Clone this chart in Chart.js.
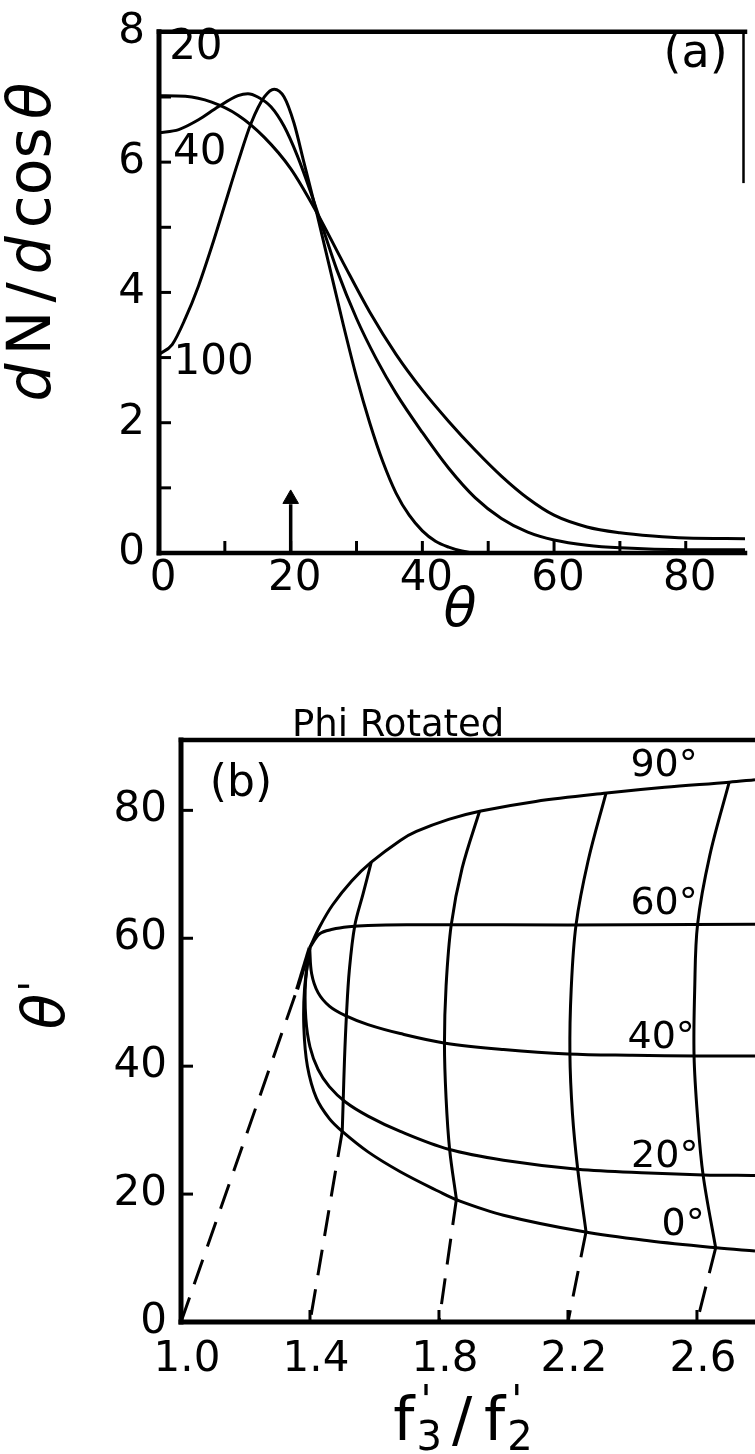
<!DOCTYPE html>
<html lang="en">
<head>
<meta charset="UTF-8">
<title>dN/dcos theta and Phi Rotated</title>
<script src="https://cdn.jsdelivr.net/npm/chart.js"></script>
<style>
  body { margin: 0; background: #fff; width: 755px; height: 1454px; overflow: hidden; position: relative; }
  .panel { position: absolute; left: 0; width: 755px; }
  #panelA { top: 0; height: 640px; }
  #panelB { top: 650px; height: 804px; }
</style>
</head>
<body>
<div class="panel" id="panelA"><canvas id="chartA"></canvas></div>
<div class="panel" id="panelB"><canvas id="chartB"></canvas></div>
<script>
// ---- panel (a): dN/dcos(theta) vs theta ----
const thetaTicks = [0, 20, 40, 60, 80];
const thetaMarks = [10, 20, 30, 40, 50, 60, 70, 80];
const dnTicks = [0, 2, 4, 6, 8];
const dnMarks = [1, 2, 3, 4, 5, 6, 7];

const theta20 = [0, 4, 8, 12, 16, 20, 24, 28, 32, 36, 40, 44, 48, 52, 56, 60, 65, 70, 75, 80, 89];
const dn20 = [7.02, 7.01, 6.92, 6.72, 6.38, 5.9, 5.22, 4.45, 3.7, 3.05, 2.5, 2.02, 1.58, 1.18, 0.84, 0.58, 0.4, 0.31, 0.26, 0.23, 0.22];

const theta40 = [0, 3, 6, 9, 12, 13.5, 15, 17, 19, 21, 23, 25, 27, 30, 33, 36, 40, 44, 48, 52, 56, 60, 65, 70, 80, 89];
const dn40 = [6.45, 6.5, 6.65, 6.85, 7.02, 7.05, 7.0, 6.85, 6.55, 6.1, 5.55, 4.95, 4.35, 3.6, 2.98, 2.45, 1.85, 1.3, 0.85, 0.53, 0.32, 0.2, 0.12, 0.08, 0.05, 0.05];

const theta100 = [0, 2, 4, 6, 8, 10, 12, 14, 16, 17.5, 19, 20.5, 22, 24, 26, 28, 30, 32, 34, 36, 38, 40, 42, 44, 46, 48, 60, 89];
const dn100 = [3.05, 3.2, 3.6, 4.1, 4.7, 5.35, 6.0, 6.6, 7.0, 7.12, 7.0, 6.6, 6.0, 5.2, 4.35, 3.5, 2.7, 2.0, 1.4, 0.92, 0.58, 0.34, 0.18, 0.09, 0.03, 0.0, 0.0, 0.0];

const arrowX = [20, 20];
const arrowY = [0.02, 0.75];
const arrowHeadY = [0.83];

// ---- panel (b): theta' vs f'3/f'2, Phi Rotated ----
const ratioTicks = [1.0, 1.4, 1.8, 2.2, 2.6];
const primeTicks = [0, 20, 40, 60, 80];
const primeMarks = [20, 40, 60, 80];

const phi90X = [1.399, 1.43, 1.47, 1.53, 1.59, 1.68, 1.73, 1.83, 1.93, 2.10, 2.32, 2.50, 2.70, 2.78];
const phi90Y = [58.5, 61.8, 65.2, 69.0, 71.9, 75.3, 76.7, 78.6, 79.9, 81.4, 82.7, 83.6, 84.4, 84.8];
const phi60X = [1.399, 1.43, 1.47, 1.52, 1.58, 1.70, 2.00, 2.40, 2.78];
const phi60Y = [58.5, 60.7, 61.4, 61.8, 62.0, 62.1, 62.1, 62.1, 62.2];
const phi40X = [1.399, 1.405, 1.425, 1.46, 1.51, 1.58, 1.68, 1.82, 2.00, 2.20, 2.40, 2.60, 2.78];
const phi40Y = [58.5, 54.5, 51.5, 49.4, 47.9, 46.5, 45.1, 43.6, 42.6, 41.9, 41.7, 41.6, 41.6];
const phi20X = [1.399, 1.386, 1.387, 1.40, 1.425, 1.46, 1.51, 1.58, 1.68, 1.83, 2.00, 2.23, 2.45, 2.62, 2.78];
const phi20Y = [58.5, 53, 47.5, 43, 39.5, 36.8, 34.4, 32.2, 29.8, 27.0, 25.3, 23.9, 23.3, 23.0, 22.9];
const phi0X = [1.399, 1.383, 1.381, 1.392, 1.42, 1.46, 1.50, 1.58, 1.68, 1.80, 1.86, 2.00, 2.25, 2.45, 2.66, 2.78];
const phi0Y = [58.5, 52, 46, 40, 35, 31.8, 29.8, 26.6, 23.5, 20.4, 19.0, 16.7, 14.1, 12.7, 11.6, 11.1];

const mer1X = [1.590, 1.565, 1.539, 1.522, 1.513, 1.507, 1.503, 1.500];
const mer1Y = [71.9, 67.0, 62.0, 55.0, 47.9, 41.0, 34.6, 29.8];
const mer2X = [1.926, 1.872, 1.838, 1.822, 1.817, 1.822, 1.833, 1.854];
const mer2Y = [79.9, 71.0, 62.1, 52.5, 43.5, 35.0, 27.0, 19.2];
const mer3X = [2.318, 2.262, 2.225, 2.210, 2.206, 2.214, 2.230, 2.256];
const mer3Y = [82.7, 72.0, 62.1, 52.0, 41.9, 32.5, 24.0, 14.1];
const mer4X = [2.700, 2.640, 2.602, 2.593, 2.591, 2.602, 2.619, 2.658];
const mer4Y = [84.4, 73.0, 62.2, 52.0, 41.6, 32.0, 23.0, 11.6];

const dash0X = [1.0, 1.36];
const dash0Y = [0, 52];
const cuspX = [1.36, 1.399];
const cuspY = [52, 58.5];
const dash1X = [1.500, 1.40];
const dash1Y = [29.8, 0];
const dash2X = [1.854, 1.80];
const dash2Y = [19.2, 0];
const dash3X = [2.256, 2.20];
const dash3Y = [14.1, 0];
const dash4X = [2.658, 2.60];
const dash4Y = [11.6, 0];

const FONT = '"DejaVu Sans"';
Chart.defaults.font.family = FONT;
Chart.defaults.color = '#000';
Chart.defaults.animation = false;

function pts(xs, ys) { return xs.map((x, i) => ({ x: x, y: ys[i] })); }

function line(xs, ys, extra) {
  return Object.assign({
    data: pts(xs, ys), showLine: true, borderColor: '#000', borderWidth: 3,
    pointRadius: 0, fill: false
  }, extra || {});
}

// text made of pieces in different fonts, centred on (x, y)
function rich(ctx, parts, x, y, angle) {
  ctx.save();
  ctx.translate(x, y);
  ctx.rotate(angle || 0);
  ctx.textAlign = 'left';
  ctx.textBaseline = 'alphabetic';
  let w = 0;
  parts.forEach(p => { ctx.font = p.font; p.w = ctx.measureText(p.t).width; if (!p.hold) w += p.w + (p.dx || 0); });
  let cx = -w / 2;
  parts.forEach(p => {
    ctx.font = p.font;
    ctx.fillText(p.t, cx + (p.dx || 0), p.dy || 0);
    if (!p.hold) cx += p.w + (p.dx || 0);
  });
  ctx.restore();
}

const decor = {
  id: 'decor',
  afterDraw(chart, args, o) {
    const ctx = chart.ctx, a = chart.chartArea;
    const sx = chart.scales.x, sy = chart.scales.y;
    ctx.save();
    ctx.strokeStyle = '#000';
    ctx.fillStyle = '#000';
    const seg = (x1, y1, x2, y2, w) => {
      ctx.lineWidth = w; ctx.beginPath(); ctx.moveTo(x1, y1); ctx.lineTo(x2, y2); ctx.stroke();
    };
    ctx.lineCap = 'square';
    seg(a.left, a.top, a.left, a.bottom, o.frame.left);
    seg(a.left, a.bottom, a.right, a.bottom, o.frame.bottom);
    seg(a.left, a.top, a.right, a.top, o.frame.top);
    if (o.frame.rightLen) seg(a.right - 1.5, a.top, a.right - 1.5, a.top + o.frame.rightLen, o.frame.right);
    ctx.lineCap = 'butt';
    o.xMarks.forEach(v => { const p = sx.getPixelForValue(v); seg(p, a.bottom, p, a.bottom - o.tickLen, 3); });
    o.yMarks.forEach(v => { const p = sy.getPixelForValue(v); seg(a.left, p, a.left + o.tickLen, p, 3); });
    ctx.textBaseline = 'middle';
    o.texts.forEach(t => {
      ctx.font = t.font;
      ctx.textAlign = t.align || 'center';
      ctx.fillText(t.text, sx.getPixelForValue(t.x), sy.getPixelForValue(t.y));
    });
    if (o.extra) o.extra(ctx, a, sx, sy);
    ctx.restore();
  }
};
Chart.register(decor);

function axis(min, max, ticks, fmt, pad, fit, shift) {
  return {
    type: 'linear', min: min, max: max,
    afterBuildTicks: s => { s.ticks = ticks.map(v => ({ value: v })); },
    afterFit: fit,
    grid: { display: false, drawTicks: false },
    border: { display: false },
    ticks: {
      font: { size: 42, lineHeight: 0.85 }, color: '#000', padding: pad,
      maxRotation: 0, autoSkip: false, callback: fmt, labelOffset: shift || 0
    }
  };
}

// ---- chart (a) ----
new Chart(document.getElementById('chartA'), {
  type: 'scatter',
  data: {
    datasets: [
      line(theta20, dn20, { label: '20', cubicInterpolationMode: 'monotone' }),
      line(theta40, dn40, { label: '40', cubicInterpolationMode: 'monotone' }),
      line(theta100, dn100, { label: '100', cubicInterpolationMode: 'monotone' }),
      line(arrowX, arrowY, { label: 'arrow', borderWidth: 3.5 }),
      { label: 'arrow head', data: pts([20], arrowHeadY), pointStyle: 'triangle', pointRadius: 9,
        backgroundColor: '#000', borderColor: '#000', borderWidth: 1 }
    ]
  },
  options: {
    responsive: true, maintainAspectRatio: false,
    layout: { padding: { top: 19, right: 0, left: 0, bottom: 0 } },
    scales: {
      x: axis(0, 89, thetaTicks, v => String(v), 8, s => { s.height = 87; }, 4),
      y: axis(0, 8, dnTicks, v => String(v), 14, s => { s.width = 159; })
    },
    plugins: {
      legend: { display: false }, tooltip: { enabled: false },
      decor: {
        frame: { left: 5, bottom: 4.5, top: 4.5, right: 2.5, rightLen: 150 },
        xMarks: thetaMarks, yMarks: dnMarks, tickLen: 12,
        texts: [
          { text: '20', x: 5.6, y: 7.75, font: '42px ' + FONT },
          { text: '40', x: 6.2, y: 6.14, font: '42px ' + FONT },
          { text: '100', x: 8.3, y: 2.92, font: '42px ' + FONT },
          { text: '(a)', x: 81.5, y: 7.65, font: '46px ' + FONT }
        ],
        extra: (ctx, a) => {
          const it = 'italic 60px ' + FONT, up = '60px ' + FONT;
          rich(ctx, [{ t: 'd', font: it }, { t: 'N', font: up, dx: 8 }, { t: '/', font: up, dx: 8 },
                     { t: 'd', font: it, dx: 8 }, { t: 'cos', font: up, dx: 8 }, { t: 'θ', font: it, dx: 8 }],
               50, 242, -Math.PI / 2);
          rich(ctx, [{ t: 'θ', font: 'italic 54px ' + FONT }], 460, 626, 0);
        }
      }
    }
  }
});

// ---- chart (b) ----
const dash = [26, 14];
new Chart(document.getElementById('chartB'), {
  type: 'scatter',
  data: {
    datasets: [
      line(phi90X, phi90Y, { label: '90°', tension: 0.35 }),
      line(phi60X, phi60Y, { label: '60°', tension: 0.35 }),
      line(phi40X, phi40Y, { label: '40°', tension: 0.35 }),
      line(phi20X, phi20Y, { label: '20°', tension: 0.35 }),
      line(phi0X, phi0Y, { label: '0°', tension: 0.35 }),
      line(mer1X, mer1Y, { label: 'm1', tension: 0.35 }),
      line(mer2X, mer2Y, { label: 'm2', tension: 0.35 }),
      line(mer3X, mer3Y, { label: 'm3', tension: 0.35 }),
      line(mer4X, mer4Y, { label: 'm4', tension: 0.35 }),
      line(dash0X, dash0Y, { label: 'd0', borderDash: dash }),
      line(cuspX, cuspY, { label: 'cusp', borderWidth: 4 }),
      line(dash1X, dash1Y, { label: 'd1', borderDash: dash }),
      line(dash2X, dash2Y, { label: 'd2', borderDash: dash }),
      line(dash3X, dash3Y, { label: 'd3', borderDash: dash }),
      line(dash4X, dash4Y, { label: 'd4', borderDash: dash })
    ]
  },
  options: {
    responsive: true, maintainAspectRatio: false,
    layout: { padding: { top: 90, right: 0, left: 0, bottom: 0 } },
    scales: {
      x: axis(1.0, 2.78, ratioTicks, v => Number(v).toFixed(1), 20, s => { s.height = 132; }, 6),
      y: axis(0, 91, primeTicks, v => String(v), 14, s => { s.width = 181; })
    },
    plugins: {
      legend: { display: false }, tooltip: { enabled: false },
      decor: {
        frame: { left: 5, bottom: 5, top: 4.5, right: 0, rightLen: 0 },
        xMarks: [1.4, 1.8, 2.2, 2.6], yMarks: primeMarks, tickLen: 12,
        texts: [
          { text: '(b)', x: 1.186, y: 84, font: '44px ' + FONT },
          { text: '90°', x: 2.498, y: 86.9, font: '38px ' + FONT },
          { text: '60°', x: 2.498, y: 65.4, font: '38px ' + FONT },
          { text: '40°', x: 2.489, y: 44.4, font: '38px ' + FONT },
          { text: '20°', x: 2.50, y: 25.8, font: '38px ' + FONT },
          { text: '0°', x: 2.557, y: 15.2, font: '38px ' + FONT }
        ],
        extra: (ctx, a, sx) => {
          ctx.font = '37px ' + FONT;
          ctx.textAlign = 'left';
          ctx.textBaseline = 'alphabetic';
          ctx.fillText('Phi Rotated', sx.getPixelForValue(1.344), a.top - 4);
          rich(ctx, [{ t: 'θ', font: 'italic 58px ' + FONT },
                     { t: '\'', font: '40px ' + FONT, dy: -16, dx: 2 }], 64, 355, -Math.PI / 2);
          const f = '60px ' + FONT, s = '40px ' + FONT;
          rich(ctx, [{ t: 'f', font: f }, { t: '\'', font: s, dy: -26, hold: true, dx: 6 }, { t: '3', font: s, dy: 10, dx: 2 },
                     { t: '/', font: f, dx: 10 }, { t: 'f', font: f, dx: 12 }, { t: '\'', font: s, dy: -26, hold: true, dx: 6 },
                     { t: '2', font: s, dy: 10, dx: 2 }], 463, 790, 0);
        }
      }
    }
  }
});
</script>
</body>
</html>
